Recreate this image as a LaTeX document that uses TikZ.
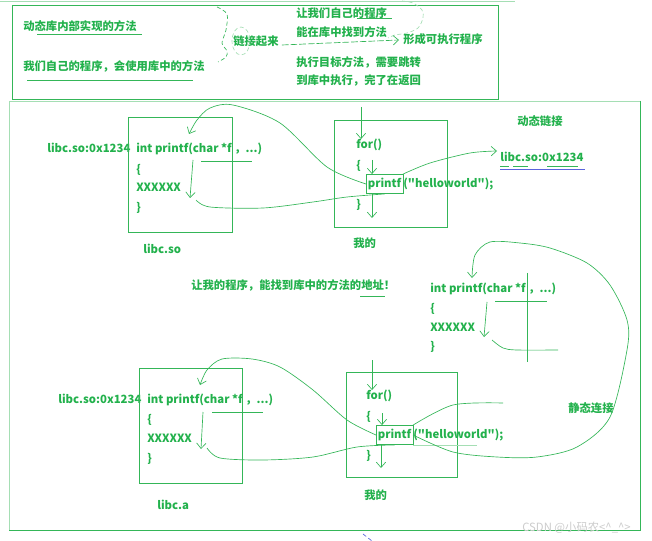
\documentclass[tikz,border=0pt]{standalone}
\usepackage{fontspec}
\setmainfont{Noto Sans CJK SC}
\newfontfamily\cnfont{Noto Sans CJK SC}
\usetikzlibrary{arrows.meta}
\definecolor{gtext}{RGB}{34,177,76}
\definecolor{gline}{RGB}{52,182,88}
\definecolor{gpale}{RGB}{165,222,180}
\definecolor{gblue}{RGB}{90,100,220}

\begin{document}
\begin{tikzpicture}[x=0.75pt, y=-0.75pt, >={Straight Barb[length=4pt,width=7pt]},
  txt/.style={anchor=west, inner sep=0pt, text=gtext, text height=7pt, text depth=1.5pt,
    font=\cnfont\bfseries\fontsize{8.5}{10}\selectfont},
  frame/.style={draw=gline, line width=0.7pt},
  ink/.style={draw=gline, line width=0.5pt},
  faint/.style={draw=gpale, line width=0.5pt}]
\useasboundingbox (0,0) rectangle (652,541);
% frames
\draw[faint] (0,1) -- (515,1);
\draw[frame] (12,5) rectangle (498,99);
\draw[faint] (9,530) -- (9,101) -- (640,101);
\draw[frame] (640,101) -- (640,530) -- (9,530);

% notes on top
\node[txt] (t1) at (23,27) {动态库内部实现的方法};
\node[txt] (t2) at (23,67) {我们自己的程序，会使用库中的方法};
\node[txt] (t3) at (233,42) {链接起来};
\node[txt] (t4) at (296,14) {让我们自己的程序};
\node[txt] (t5) at (296,33) {能在库中找到方法};
\node[txt] (t6) at (403,40) {形成可执行程序};
\node[txt] (t7) at (296,63) {执行目标方法，需要跳转};
\node[txt] (t8) at (296,81) {到库中执行，完了在返回};
\draw[ink] (37,34) -- (142,34);
\draw[ink] (27,80) -- (193,80);
\draw[ink, densely dashed] plot[smooth] coordinates {(217,7) (227,14) (226,30) (222,43) (227,51) (226,57) (218,62)};
\draw[faint, densely dashed] (241,41) ellipse (9 and 14);
\draw[ink] (357,18) -- (392,18);
\draw[faint, densely dashed] plot[smooth] coordinates {(402,1) (413,3) (422,10) (423,18) (418,28) (407,33) (395,35) (388,38)};
\draw[ink, dash pattern=on 5pt off 1.5pt, ->] ([shift={(3,3)}]t3.east) -- ([shift={(-4,0)}]t6.west);

% dynamic linking
\node[txt] (addr1) at (47,149) {libc.so:0x1234};
\draw[frame] (128,117) rectangle (232,232);
\node[txt] (so1) at (136,149) {int printf(char *f ，...)};
\node[txt] (so2) at (136,170) {\{};
\node[txt] (so3) at (136,188) {XXXXXX};
\node[txt] (so4) at (136,208) {\}};
\node[txt] (so5) at (143,250) {libc.so};
\draw[ink, ->] (193,160) -- (190,198);
\draw[ink] (201,161) -- (252,161);

\draw[frame] (334,120) rectangle (447,227);
\node[txt] (m1) at (356,145) {for()};
\node[txt] (m2) at (356,166) {\{};
\node[txt, draw=gline, inner ysep=3pt, inner xsep=1.2pt] (pf1) at (366,184) {printf};
\node[txt] (m3) at (pf1.east) {("helloworld");};
\node[txt] (m4) at (356,205) {\}};
\node[txt] (m5) at (353,244) {我的};
\node[txt] (dyn) at (517,122) {动态链接};
\node[txt] (addr2) at (500,158) {libc.so:0x1234};
\draw[draw=gblue, line width=0.6pt] (500,169) -- (585,169);
\draw[ink] (500,166) -- (509,166) (513,166) -- (528,166) (547,166) -- (578,166);

\coordinate (c1) at (361,107);
\coordinate (c2) at (372,160);
\coordinate (c3) at (372,218);
\draw[ink, ->] (c1) -- (c1 |- m1.north);
\draw[ink, ->] (c2) -- (c2 |- pf1.north);
\draw[ink, ->] (c3 |- pf1.south) -- (c3);
\draw[ink, ->] plot[smooth] coordinates {(pf1.west) (327,167) (280,123) (233,105) (210,108) (197,120) (189,134)};
\draw[ink] plot[smooth] coordinates {(196,200) (210,207) (263,208) (313,202) (347,197) (pf1.south)};
\draw[ink, ->] plot[smooth] coordinates {(pf1.north east) (430,163) (470,153) ([shift={(-3,-7)}]addr2.west)};

% middle note
\node[txt] (note) at (191,286) {让我的程序，能找到库中的方法的地址！};
\draw[ink] (360,296) -- (385,296);

% copied code
\node[txt] (st1) at (430,289) {int printf(char *f ，...)};
\node[txt] (st2) at (430,309) {\{};
\node[txt] (st3) at (430,328) {XXXXXX};
\node[txt] (st4) at (430,347) {\}};
\draw[ink, ->] (487,302) -- (484,337);
\draw[ink] (495,301) -- (547,301);
\draw[ink] (527,273) -- (527,362);
\draw[ink] plot[smooth] coordinates {(492,340) (503,348) (517,350) (558,350)};

% static linking
\node[txt] (addr3) at (58,400) {libc.so:0x1234};
\draw[frame] (139,368) rectangle (242,483);
\node[txt] (a1) at (147,400) {int printf(char *f ，...)};
\node[txt] (a2) at (147,420) {\{};
\node[txt] (a3) at (147,439) {XXXXXX};
\node[txt] (a4) at (147,459) {\}};
\node[txt] (a5) at (157,506) {libc.a};
\draw[ink, ->] (203,412) -- (201,449);
\draw[ink] (212,412) -- (263,412);

\draw[frame] (346,372) rectangle (457,477);
\node[txt] (s1) at (366,396) {for()};
\node[txt] (s2) at (366,417) {\{};
\node[txt, draw=gline, inner ysep=3pt, inner xsep=1.2pt] (pf2) at (376,435) {printf};
\node[txt] (s3) at (pf2.east) {("helloworld");};
\node[txt] (s4) at (366,456) {\}};
\node[txt] (s5) at (364,496) {我的};
\node[txt] (stat) at (568,409) {静态连接};

\coordinate (c4) at (372,360);
\coordinate (c5) at (382,413);
\coordinate (c6) at (381,468);
\draw[ink, ->] (c4) -- (c4 |- s1.north);
\draw[ink, ->] (c5) -- (c5 |- pf2.north);
\draw[ink, ->] (c6 |- pf2.south) -- (c6);
\draw[ink, ->] plot[smooth] coordinates {(pf2.west) (347,420) (313,390) (280,367) (252,359) (222,359) (207,370) (200,385)};
\draw[ink] plot[smooth] coordinates {(207,448) (220,458) (263,460) (313,457) (357,447) (pf2.south)};
\draw[faint] (413,445) -- (477,445);
\draw[ink] plot[smooth] coordinates {(pf2.north east) (453,405) (503,403)};
\draw[ink, ->] plot[smooth] coordinates {(pf2.east) (453,452) (497,457) (537,457) (577,447) (610,417) (627,350) (627,320) (610,285) (587,263) (550,248) (520,243) (490,242) (475,255) (472,278)};

\node[anchor=west, inner sep=0pt, text=gray!40, font=\cnfont\fontsize{8.5}{10}\selectfont] (wm) at (522,528) {CSDN @小码农<\textasciicircum\_\textasciicircum>};
\draw[draw=gblue, densely dashed, line width=0.5pt] (363,534) -- (372,541);
\end{tikzpicture}
\end{document}
